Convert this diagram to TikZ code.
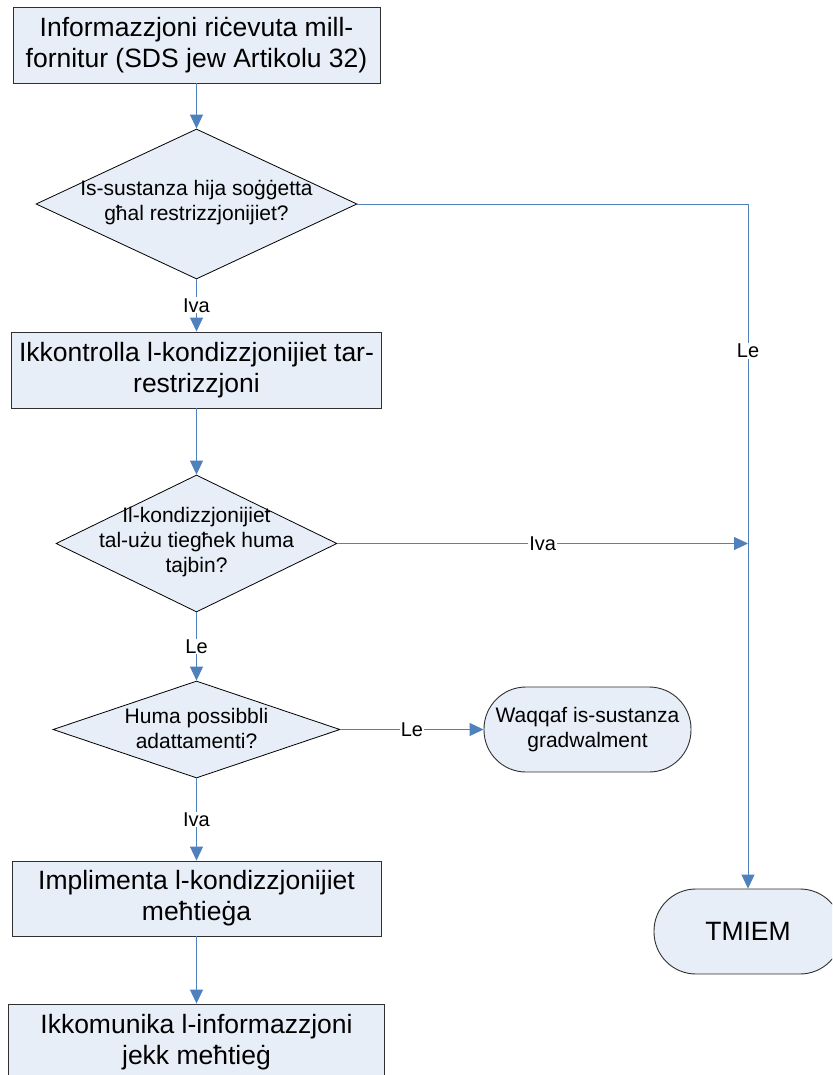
\documentclass[tikz,border=0pt]{standalone}
\usepackage{fontspec}
\setmainfont{Liberation Sans}
\usetikzlibrary{shapes.geometric,arrows.meta}
\definecolor{fillblue}{HTML}{E8EEF7}
\definecolor{lineblue}{HTML}{4F81BD}
\definecolor{edgegray}{HTML}{303030}
\begin{document}
\begin{tikzpicture}[x=1pt,y=-1pt,
  procbox/.style={draw=edgegray, fill=fillblue, line width=0.9pt, inner sep=0pt, align=center,
    font=\fontsize{26.5}{31}\selectfont},
  decision/.style={diamond, draw=black, fill=fillblue, line width=0.8pt, inner sep=0pt, aspect=1},
  dtext/.style={align=center, inner sep=0pt, font=\fontsize{21}{25}\selectfont},
  term/.style={rectangle, rounded corners=42pt, draw=edgegray, fill=fillblue, line width=0.9pt,
    inner sep=0pt, align=center},
  conn/.style={draw=lineblue, line width=0.9pt},
  arr/.style={conn, -{Triangle[length=14pt,width=13pt]}},
  lbl/.style={fill=white, inner sep=1pt, font=\fontsize{20}{24}\selectfont}
]
\clip (0,0) rectangle (832,1075);
\useasboundingbox (0,0) rectangle (832,1075);
\fill[white] (0,0) rectangle (832,1075);

% process boxes
\node[procbox, minimum width=367pt, minimum height=76pt] (b1) at (196.5,45)
  {Informazzjoni riċevuta mill-\\fornitur (SDS jew Artikolu 32)};
\node[procbox, minimum width=370pt, minimum height=76pt] (b2) at (196.5,370)
  {Ikkontrolla l-kondizzjonijiet tar-\\restrizzjoni};
\node[procbox, minimum width=369pt, minimum height=75pt] (b3) at (196.5,898.5)
  {Implimenta l-kondizzjonijiet\\meħtieġa};
\node[procbox, minimum width=376pt, minimum height=76pt] (b4) at (196.5,1042)
  {Ikkomunika l-informazzjoni\\jekk meħtieġ};

% decisions
\node[decision, minimum width=321pt, minimum height=150pt] (d1) at (196.5,204) {};
\node[dtext] (d1t) at (196.5,203) {Is-sustanza hija soġġetta\\għal restrizzjonijiet?};
\node[decision, minimum width=281pt, minimum height=137pt] (d2) at (196.5,543.5) {};
\node[dtext] (d2t) at (196.5,542) {Il-kondizzjonijiet\\tal-użu tiegħek huma\\tajbin?};
\node[decision, minimum width=287pt, minimum height=97pt] (d3) at (196.5,729.5) {};
\node[dtext] (d3t) at (196.5,728) {Huma possibbli\\adattamenti?};

% terminals
\node[term, minimum width=207pt, minimum height=85pt, font=\fontsize{21}{25}\selectfont] (w) at (587.5,729.5)
  {Waqqaf is-sustanza\\gradwalment};
\node[term, minimum width=188pt, minimum height=85pt, font=\fontsize{26.5}{31}\selectfont] (t) at (748,931.5)
  {TMIEM};

% connectors
\draw[arr] (b1.south) -- (d1.north);
\draw[arr] (d1.south) -- node[lbl] (l1) {Iva} (b2.north);
\draw[arr] (d1.east) -| (t.north);
\node[lbl] (l2) at (748,351) {Le};
\draw[arr] (b2.south) -- (d2.north);
\coordinate (j) at (d2.east -| t.north);
\draw[arr] (d2.east) -- node[lbl] (l3) {Iva} (j);
\draw[arr] (d2.south) -- node[lbl] (l4) {Le} (d3.north);
\draw[arr] (d3.east) -- node[lbl] (l5) {Le} (w.west);
\draw[arr] (d3.south) -- node[lbl] (l6) {Iva} (b3.north);
\draw[arr] (b3.south) -- (b4.north);
\end{tikzpicture}
\end{document}
